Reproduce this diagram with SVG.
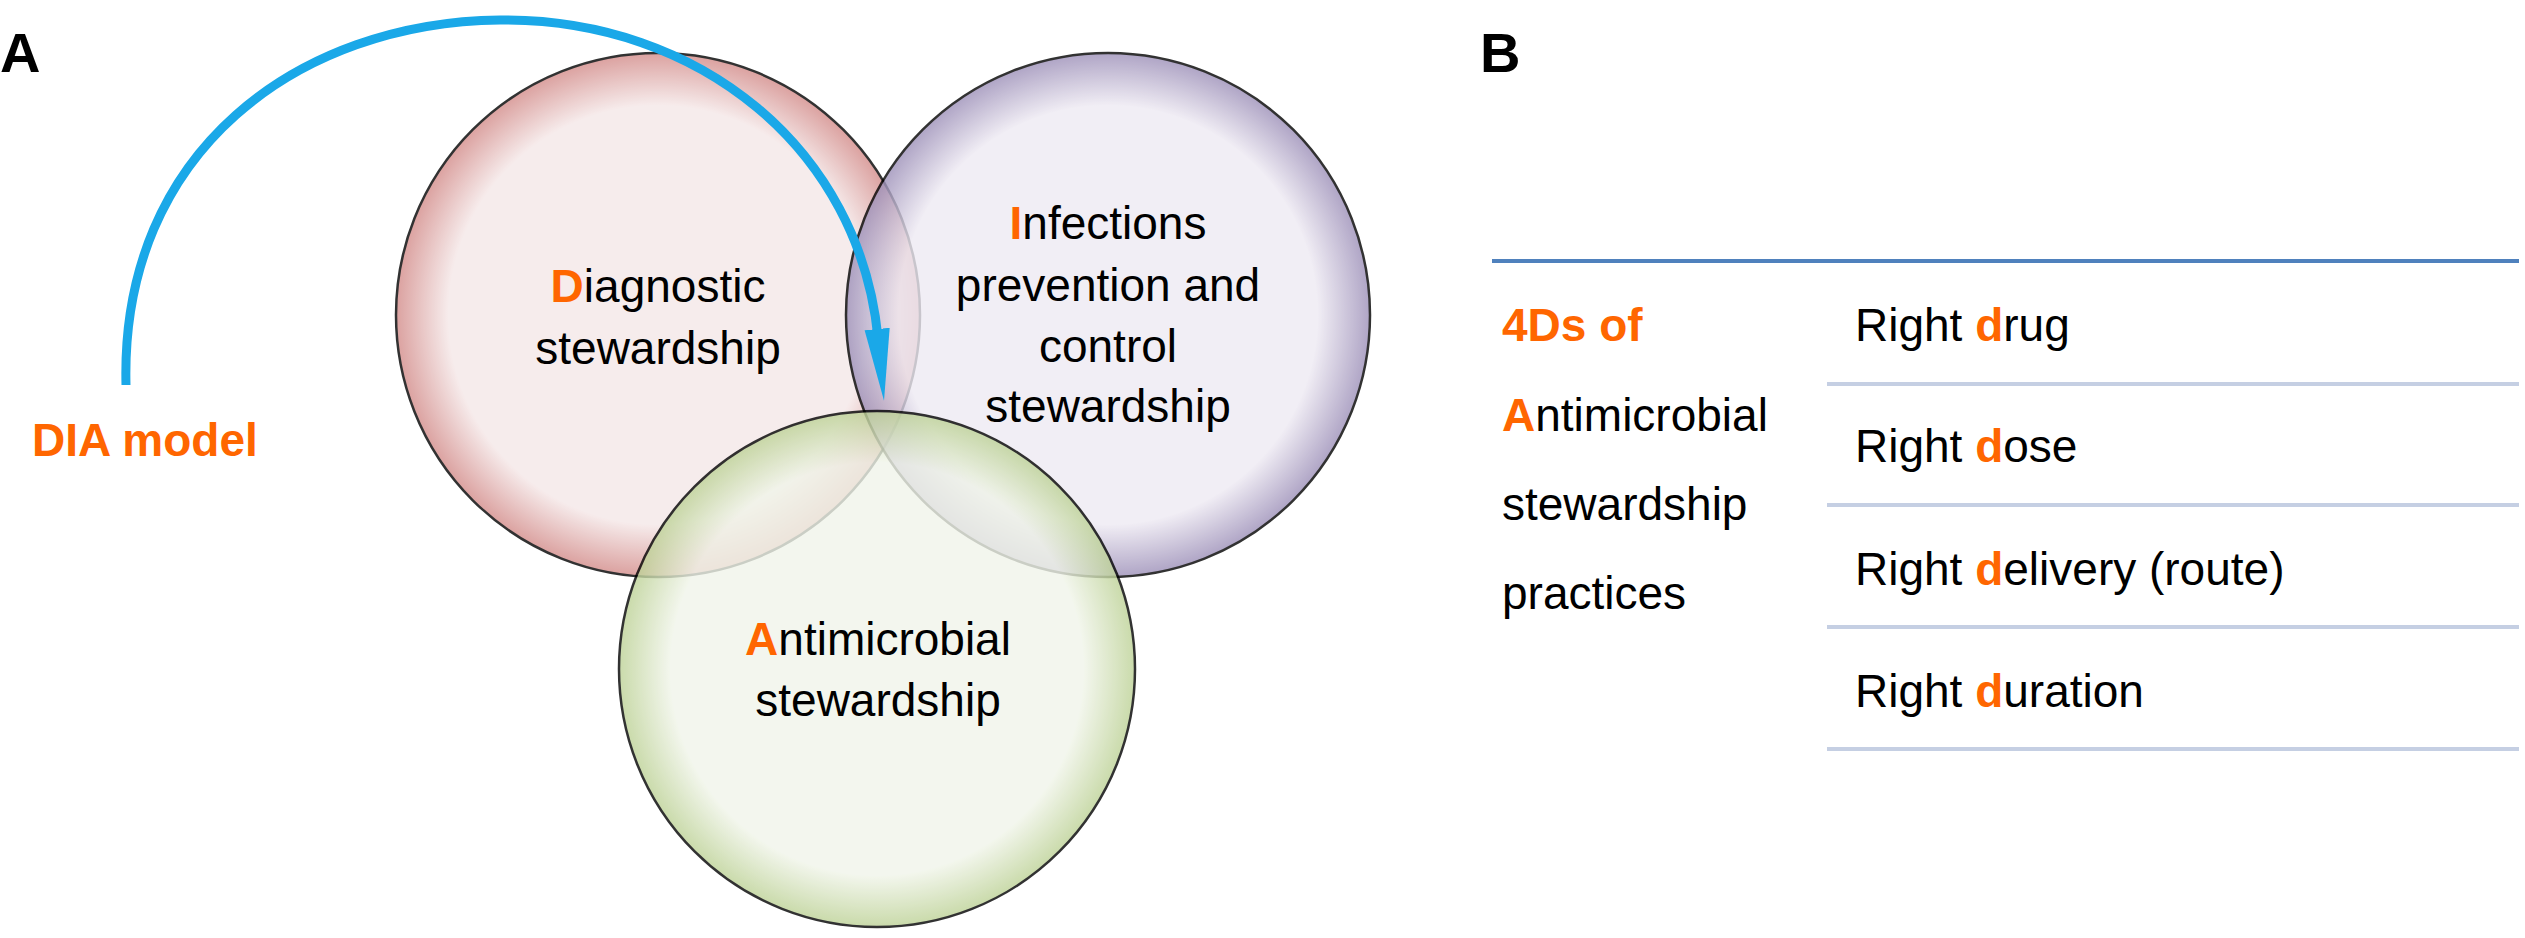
<svg xmlns="http://www.w3.org/2000/svg" width="2525" height="938" viewBox="0 0 2525 938">
<style>
.t{font-family:"Liberation Sans",Arial,sans-serif;font-size:46px;fill:#000}
.o{fill:#FF6600;font-weight:bold}
.lbl{font-family:"Liberation Sans",Arial,sans-serif;font-size:56px;font-weight:bold;fill:#000}
.c{stroke:#000;stroke-width:2.5;opacity:0.8}
</style>
<defs>
<radialGradient id="gr"><stop offset="0.8" stop-color="#F5E8E8"/><stop offset="1" stop-color="#D38B89"/></radialGradient>
<radialGradient id="gp"><stop offset="0.8" stop-color="#EEEAF3"/><stop offset="1" stop-color="#9C8FB8"/></radialGradient>
<radialGradient id="gg"><stop offset="0.8" stop-color="#F1F5EA"/><stop offset="1" stop-color="#BDD296"/></radialGradient>
<marker id="ah" markerWidth="8" markerHeight="4" refX="1" refY="2" orient="auto" markerUnits="strokeWidth"><path d="M0,0.6 L8,2 L0,3.4 z" fill="#1AA8E8"/></marker>
</defs>
<text class="lbl" x="0" y="72">A</text>
<text class="lbl" x="1480" y="72">B</text>
<g id="red"><circle class="c" cx="658" cy="315" r="262" fill="url(#gr)"/></g>
<g id="purple"><circle class="c" cx="1108" cy="315" r="262" fill="url(#gp)"/></g>
<g id="green"><circle class="c" cx="877" cy="669" r="258" fill="url(#gg)"/></g>
<g id="connectors"><path d="M126,385 C120,150 300,22 500,20 C700,18 860,150 878,338" fill="none" stroke="#1AA8E8" stroke-width="9" marker-end="url(#ah)"/></g>
<g id="diag" text-anchor="middle"><text class="t" x="658" y="302"><tspan class="o">D</tspan>iagnostic</text><text class="t" x="658" y="364">stewardship</text></g>
<g id="inf" text-anchor="middle"><text class="t" x="1108" y="239"><tspan class="o">I</tspan>nfections</text><text class="t" x="1108" y="301">prevention and</text><text class="t" x="1108" y="362">control</text><text class="t" x="1108" y="422">stewardship</text></g>
<g id="anti" text-anchor="middle"><text class="t" x="878" y="655"><tspan class="o">A</tspan>ntimicrobial</text><text class="t" x="878" y="716">stewardship</text></g>
<g id="dia"><text class="t o" x="32" y="456">DIA model</text></g>
<g id="table">
<line x1="1492" y1="261" x2="2519" y2="261" stroke="#4F81BD" stroke-width="4"/>
<g stroke="#C5CFE3" stroke-width="4"><line x1="1827" y1="384" x2="2519" y2="384"/><line x1="1827" y1="505" x2="2519" y2="505"/><line x1="1827" y1="627" x2="2519" y2="627"/><line x1="1827" y1="749" x2="2519" y2="749"/></g>
<text class="t o" x="1502" y="341">4Ds of</text>
<text class="t" x="1502" y="431"><tspan class="o">A</tspan>ntimicrobial</text>
<text class="t" x="1502" y="520">stewardship</text>
<text class="t" x="1502" y="609">practices</text>
<text class="t" x="1855" y="341">Right <tspan class="o">d</tspan>rug</text>
<text class="t" x="1855" y="462">Right <tspan class="o">d</tspan>ose</text>
<text class="t" x="1855" y="585">Right <tspan class="o">d</tspan>elivery (route)</text>
<text class="t" x="1855" y="707">Right <tspan class="o">d</tspan>uration</text>
</g>
</svg>
